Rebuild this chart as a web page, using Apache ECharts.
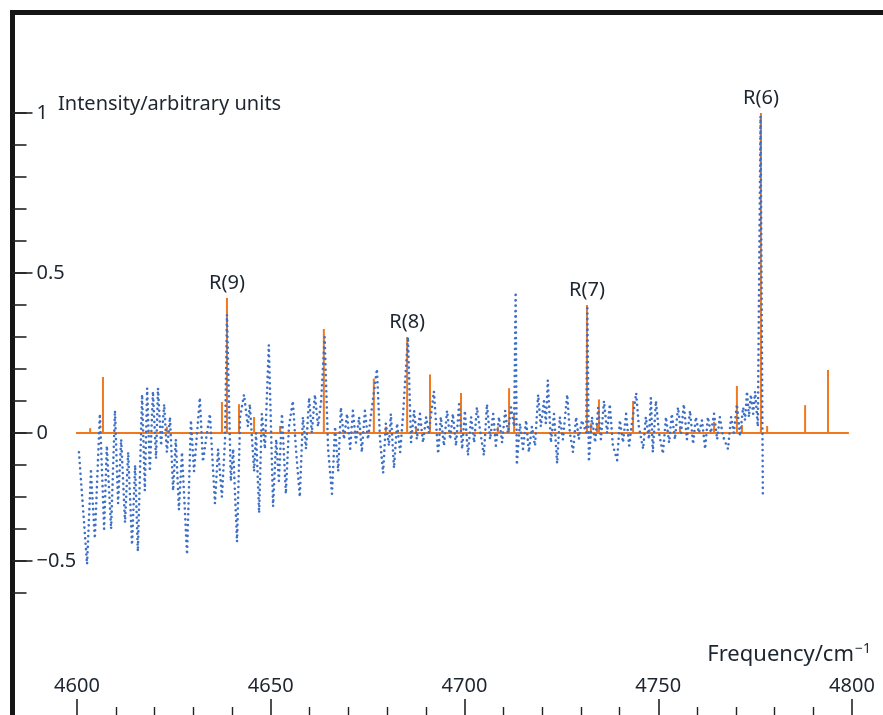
<!DOCTYPE html>
<html><head><meta charset="utf-8">
<script src="https://cdn.jsdelivr.net/npm/echarts@6/dist/echarts.min.js"></script>
<style>html,body{margin:0;padding:0;background:#fff}#c{width:883px;height:715px}</style>
</head><body><div id="c"></div>
<script>
// Experimental spectrum (dotted trace): frequency / cm^-1 and intensity
const specFreq = [4600.5,4602.6,4603.6,4604.6,4605.9,4607.0,4607.7,4608.8,4609.8,4610.6,4611.4,4612.4,4613.2,4614.2,4615.0,4615.7,4616.8,4617.5,4618.1,4618.8,4619.6,4620.4,4620.9,4621.7,4622.5,4623.2,4624.0,4624.8,4625.5,4626.3,4627.1,4628.4,4629.4,4630.2,4631.7,4632.5,4633.3,4634.3,4635.6,4636.4,4637.4,4638.2,4638.7,4639.7,4640.3,4641.3,4642.1,4643.1,4644.1,4644.6,4645.7,4646.2,4647.0,4647.7,4648.5,4649.5,4650.6,4651.4,4652.1,4652.9,4653.9,4654.7,4655.7,4656.5,4657.5,4658.3,4659.1,4659.9,4660.6,4661.4,4662.2,4663.0,4663.9,4664.8,4665.8,4666.6,4667.4,4668.1,4668.9,4669.7,4670.5,4671.2,4672.0,4672.8,4673.5,4674.3,4675.1,4675.9,4677.4,4678.2,4679.0,4679.7,4680.5,4681.0,4681.8,4682.6,4683.4,4684.1,4685.4,4686.2,4687.0,4687.7,4688.5,4689.3,4690.1,4690.8,4692.1,4693.2,4693.9,4694.7,4695.5,4696.3,4697.0,4697.8,4698.6,4699.4,4700.1,4700.9,4701.7,4702.5,4703.2,4704.0,4705.0,4705.8,4706.6,4707.4,4708.1,4708.9,4709.7,4710.5,4711.2,4712.0,4712.8,4713.2,4713.5,4714.3,4715.1,4715.9,4716.6,4717.4,4718.2,4719.0,4719.7,4720.5,4721.0,4721.5,4722.3,4723.1,4723.9,4724.6,4725.4,4726.5,4727.2,4728.0,4728.8,4729.5,4730.3,4731.4,4731.7,4732.1,4732.9,4733.7,4734.5,4735.2,4736.0,4736.8,4737.5,4738.3,4739.4,4740.1,4740.9,4741.7,4742.5,4743.2,4744.3,4745.0,4746.1,4746.8,4747.6,4748.1,4748.6,4749.4,4750.2,4751.2,4752.0,4752.8,4753.5,4754.3,4755.1,4755.9,4756.6,4757.4,4758.2,4759.0,4759.7,4760.5,4761.3,4762.1,4762.8,4763.6,4764.4,4765.2,4765.9,4766.7,4768.0,4768.8,4769.5,4770.3,4771.1,4771.9,4772.4,4772.9,4773.4,4773.9,4774.5,4775.0,4775.7,4776.4,4777.0];
const specInt = [-0.06,-0.41,-0.12,-0.33,0.06,-0.30,-0.04,-0.30,0.07,-0.22,-0.02,-0.28,-0.06,-0.35,-0.10,-0.37,0.12,-0.18,0.14,-0.12,0.13,-0.08,0.14,-0.04,0.09,-0.06,0.05,-0.18,-0.02,-0.24,-0.06,-0.38,0.04,-0.12,0.11,-0.09,-0.02,0.06,-0.22,-0.05,-0.20,-0.02,0.37,-0.15,-0.05,-0.34,0.05,0.12,0.02,0.09,-0.12,0.0,-0.25,0.06,-0.05,0.275,-0.23,-0.02,-0.15,0.06,-0.19,0.02,0.10,-0.05,-0.20,0.05,-0.05,0.11,0.0,0.12,0.02,0.10,0.30,-0.05,-0.19,0.02,-0.12,0.08,-0.02,0.06,-0.05,0.07,-0.03,0.05,-0.06,0.07,-0.02,0.06,0.20,-0.02,-0.125,0.03,-0.04,0.06,-0.11,0.03,-0.06,0.05,0.30,-0.03,0.07,-0.02,0.06,-0.03,0.05,0.0,0.13,-0.065,0.05,-0.04,0.07,-0.02,0.06,-0.04,0.09,-0.05,0.07,-0.07,0.05,-0.03,0.08,0.01,-0.07,0.09,-0.02,0.06,-0.04,0.05,-0.03,0.07,0.0,0.08,0.02,0.44,-0.10,0.03,-0.05,0.04,-0.06,0.02,-0.04,0.12,0.02,0.10,0.03,0.165,-0.03,0.06,-0.095,0.05,-0.02,0.12,0.0,-0.06,0.05,-0.02,0.04,0.0,0.39,-0.09,0.05,-0.03,0.08,-0.02,0.10,0.0,0.09,-0.04,-0.085,0.04,-0.03,0.06,-0.04,0.03,0.125,0.02,-0.05,0.05,-0.02,0.11,-0.06,0.10,0.0,-0.065,0.05,-0.03,0.06,-0.02,0.08,0.0,0.09,-0.02,0.07,-0.035,0.05,0.0,0.04,-0.05,0.05,0.0,0.06,-0.02,0.05,-0.01,-0.05,0.05,0.0,0.09,-0.01,0.08,0.04,0.13,0.05,0.12,0.06,0.13,0.02,0.99,-0.20];

// Calculated stick spectrum
const stickFreq = [4603.4,4606.7,4623.2,4637.4,4638.7,4641.8,4645.7,4652.4,4663.7,4676.6,4679.7,4685.2,4687.5,4691.1,4699.1,4708.6,4711.5,4712.8,4731.6,4732.6,4734.2,4734.7,4743.5,4755.6,4764.4,4770.3,4771.6,4776.5,4778.1,4787.9,4793.8];
const stickInt  = [0.015,0.175,0.02,0.097,0.422,0.09,0.05,0.022,0.325,0.17,0.02,0.30,0.02,0.183,0.125,0.02,0.14,0.06,0.40,0.03,0.03,0.105,0.10,0.02,0.035,0.147,0.025,1.0,0.022,0.087,0.197];
const stickLabels = ['','','','','R(9)','','','','','','','R(8)','','','','','','','R(7)','','','','','','','','','R(6)','','',''];
const baselineFreq = [4599.5, 4799.2];

// Axis ticks / labels
const xMin = 4600, xMax = 4800, xStep = 50;
const yMin = -0.5, yMax = 1, yStep = 0.1;
const yLabelValues = [1, 0.5, 0, -0.4];
const yLabelTexts  = ['1', '0.5', '0', '\u22120.5'];

const FONT = '"Noto Sans", "DejaVu Sans", sans-serif';
const TXT = '#1d2530';
const ORANGE = '#f0781e';
const BLUE = '#3d6fc6';
const TICK = '#222';

const specData = specFreq.map((f, i) => [f, specInt[i]]);
const stickData = stickFreq.map((f, i) => {
  const d = { value: [f, stickInt[i]] };
  if (stickLabels[i]) d.label = { show: true, formatter: stickLabels[i] };
  return d;
});
const baseData = baselineFreq.map(f => [f, 0]);

const chart = echarts.init(document.getElementById('c'));
chart.setOption({
  animation: false,
  backgroundColor: '#fff',
  grid: { left: 77, width: 775, top: 113, height: 480, containLabel: false, outerBoundsMode: 'none' },
  xAxis: {
    type: 'value', min: xMin, max: xMax, interval: xStep, position: 'bottom', offset: 122,
    axisLine: { show: false, onZero: false }, splitLine: { show: false },
    axisTick: { show: true, inside: true, length: 16, lineStyle: { color: TICK, width: 1.6 } },
    minorTick: { show: true, splitNumber: 5, length: 8, lineStyle: { color: TICK, width: 1.4 } },
    axisLabel: { inside: true, margin: 19, color: TXT, fontSize: 20, fontFamily: FONT, formatter: v => String(v) }
  },
  yAxis: [
    {
      type: 'value', min: yMin, max: yMax, interval: yStep, position: 'left', offset: 64.5,
      axisLine: { show: false, onZero: false }, splitLine: { show: false },
      axisTick: { show: true, inside: true, length: 14, lineStyle: { color: TICK, width: 1.6 } },
      axisLabel: { show: false }
    },
    {
      type: 'value', min: yMin, max: yMax, position: 'left', offset: 64.5,
      axisLine: { show: false, onZero: false }, splitLine: { show: false },
      axisTick: { show: true, inside: true, length: 20, customValues: yLabelValues, lineStyle: { color: TICK, width: 1.6 } },
      axisLabel: {
        inside: true, margin: 24, color: TXT, fontSize: 20, fontFamily: FONT,
        customValues: yLabelValues,
        formatter: function (v) {
          for (let i = 0; i < yLabelValues.length; i++) if (Math.abs(v - yLabelValues[i]) < 1e-6) return yLabelTexts[i];
          return '';
        }
      }
    }
  ],
  series: [
    { type: 'line', data: baseData, showSymbol: false, lineStyle: { color: ORANGE, width: 2 }, z: 2 },
    {
      type: 'bar', data: stickData, barWidth: 2, itemStyle: { color: ORANGE }, z: 3,
      label: { show: false, position: 'top', distance: 5, color: TXT, fontSize: 20, fontFamily: FONT }
    },
    {
      type: 'line', data: specData, showSymbol: false, z: 4,
      lineStyle: { color: BLUE, width: 2.6, type: [0, 5.4], cap: 'round' }
    }
  ],
  graphic: [
    { type: 'polyline', silent: true, shape: { points: [[12.5, 720], [12.5, 12.5], [890, 12.5]] },
      style: { stroke: '#151515', lineWidth: 5, fill: null } },
    { type: 'text', x: 58, y: 104, silent: true,
      style: { text: 'Intensity/arbitrary units', font: '20px ' + FONT, fill: TXT, align: 'left', verticalAlign: 'middle' } },
    { type: 'text', x: 854, y: 655, silent: true,
      style: { text: 'Frequency/cm', font: '22px ' + FONT, fill: TXT, align: 'right', verticalAlign: 'middle' } },
    { type: 'text', x: 855, y: 649, silent: true,
      style: { text: '\u22121', font: '14px ' + FONT, fill: TXT, align: 'left', verticalAlign: 'middle' } }
  ]
});
</script>
</body></html>
